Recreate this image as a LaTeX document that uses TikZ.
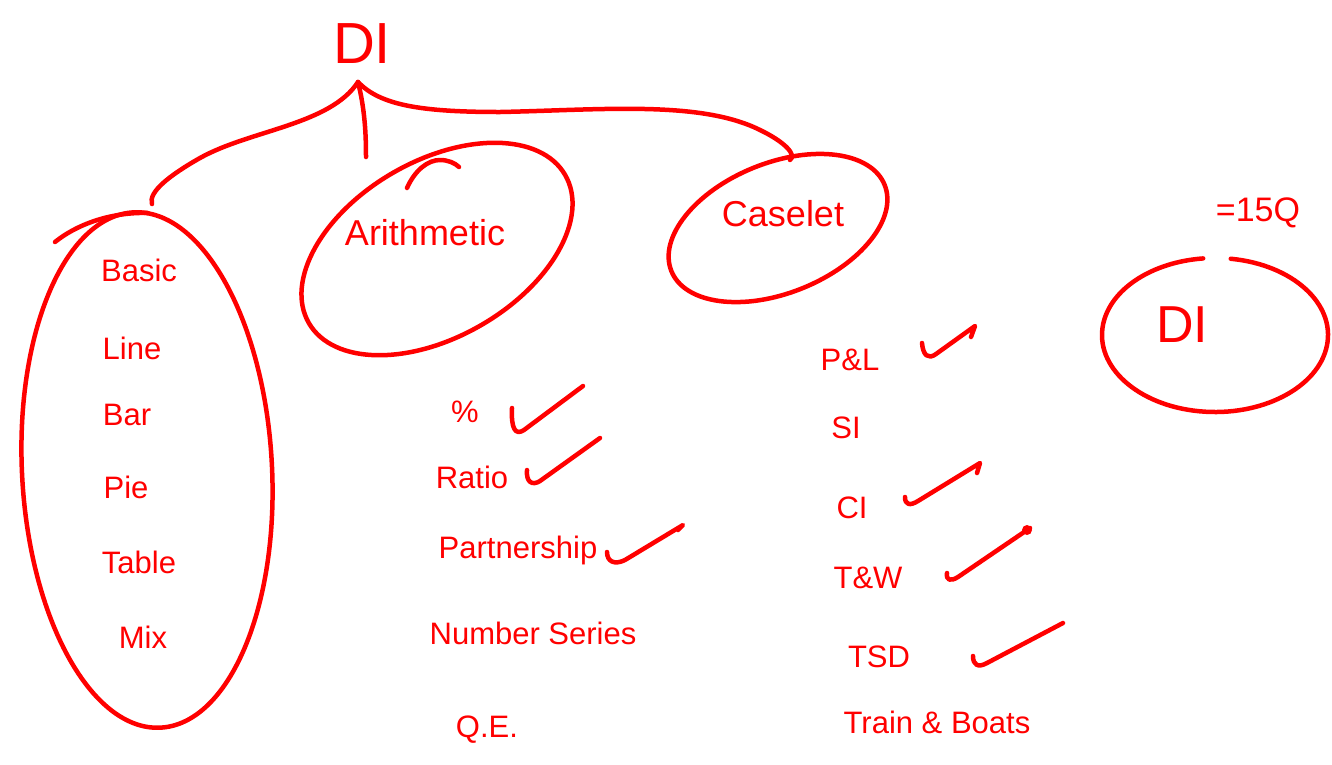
\documentclass[tikz,border=0pt]{standalone}
\usepackage{fontspec}
\setmainfont{Liberation Sans}
\usetikzlibrary{positioning}

\definecolor{penred}{RGB}{255,0,0}

\tikzset{
  ink/.style={draw=penred, line width=4.5pt, line cap=round, line join=round},
  word/.style={text=penred, inner sep=0pt, text depth=0pt, font=\fontsize{31}{35}\selectfont},
  topic/.style={word, font=\fontsize{36}{40}\selectfont},
  title/.style={word, font=\fontsize{58}{62}\selectfont},
}

\begin{document}
\begin{tikzpicture}[x=1pt, y=-1pt]
\useasboundingbox (0,0) rectangle (1332,764);

% root and its three branches
\node[title] (root) at (362,44) {DI};
\coordinate (fork) at (358,82);
\coordinate (chartsTop) at (152,204);
\coordinate (arithTop) at (366,157);
\coordinate (caseletTop) at (790,160);

\draw[ink] (fork) .. controls (330,125) and (250,130) .. (200,158)
                  .. controls (170,175) and (148,192) .. (chartsTop);
\draw[ink] (fork) .. controls (365,110) and (366,135) .. (arithTop);
\draw[ink] (fork) .. controls (380,105) and (420,112) .. (500,112)
                  .. controls (600,110) and (700,100) .. (760,130)
                  .. controls (785,142) and (797,155) .. (caseletTop);

% topic circles
\draw[ink, rotate around={3:(147,470)}] (147,470) ellipse [x radius=125, y radius=258];
\draw[ink] (55,242) .. controls (80,222) and (115,212) .. (148,213);
\node[topic] (arith) at (425,232) {Arithmetic};
\draw[ink, rotate around={30:(437,249)}] (437,249) ellipse [x radius=148, y radius=88];
\draw[ink] (407,188) .. controls (415,170) and (428,160) .. (440,160) .. controls (448,160) and (455,163) .. (459,167);
\node[topic] (caselet) at (783,213) {Caselet};
\draw[ink, rotate around={22:(778,228)}] (778,228) ellipse [x radius=115, y radius=65];

% chart types
\node[word] (basic) at (139,270) {Basic};
\node[word] (line) at (132,348) {Line};
\node[word] (bar) at (127,415) {Bar};
\node[word] (pie) at (126,487) {Pie};
\node[word] (table) at (139,562) {Table};
\node[word] (mix) at (143,637) {Mix};

% arithmetic topics
\node[word] (pct) at (465,412) {\%};
\node[word] (ratio) at (472,477) {Ratio};
\node[word] (partner) at (518,547) {Partnership};
\node[word] (series) at (533,633) {Number Series};
\node[word] (qe) at (487,727) {Q.E.};

\draw[ink] (512,408) .. controls (511,428) and (515,436) .. (524,430) -- (583,386);
\draw[ink] (527,470) .. controls (526,482) and (532,486) .. (540,481) -- (600,438);
\draw[ink] (607,552) .. controls (607,562) and (615,565) .. (625,560) -- (683,525) -- (678,530);

% caselet topics
\node[word] (pl) at (850,360) {P\&L};
\node[word] (si) at (846,428) {SI};
\node[word] (ci) at (852,508) {CI};
\node[word] (tw) at (868,578) {T\&W};
\node[word] (tsd) at (879,657) {TSD};
\node[word] (boats) at (937,722) {Train \& Boats};

\draw[ink] (922,343) .. controls (923,355) and (928,360) .. (936,354) -- (975,326) -- (971,337);
\draw[ink] (905,497) .. controls (905,505) and (910,506) .. (918,501) -- (980,463) -- (977,473);
\draw[ink] (947,573) .. controls (946,580) and (950,582) .. (958,577) -- (1030,528);
\fill[penred] (1027,530) circle (5);
\draw[ink] (973,656) .. controls (973,665) and (978,668) .. (987,663) -- (1063,623);

% weight of the section
\node[title, font=\fontsize{52}{56}\selectfont] (di) at (1182,325) {DI};
\draw[ink] (1215,335) ++(278:113 and 77) arc [start angle=278, end angle=624, x radius=113, y radius=77];
\node[word, font=\fontsize{34}{38}\selectfont] (count) at (1258,210) {=15Q};
\end{tikzpicture}
\end{document}
